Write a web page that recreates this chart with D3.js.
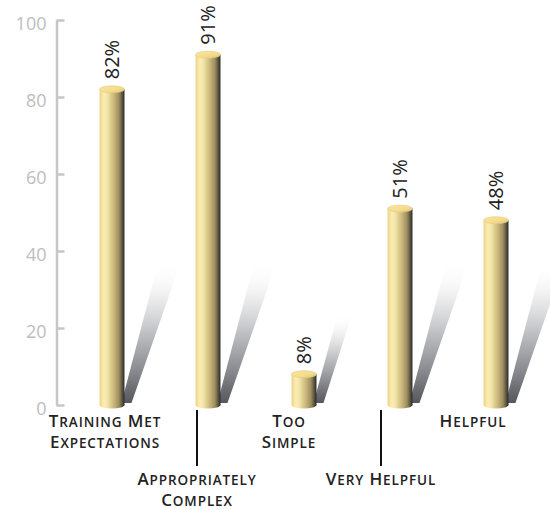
<!DOCTYPE html>
<html>
<head>
<meta charset="utf-8">
<script src="https://cdn.jsdelivr.net/npm/d3@7"></script>
<style>
  html, body { margin: 0; padding: 0; background: #fff; }
  svg { display: block; }
  .cat { font-family: "Open Sans", sans-serif; font-weight: 600; fill: #222; }
</style>
</head>
<body>
<svg id="chart" width="550" height="510"></svg>
<script>
// Survey results, percent of respondents
const categories = ["Training Met Expectations", "Appropriately Complex", "Too Simple", "Very Helpful", "Helpful"];
const labelLines = [["Training Met", "Expectations"], ["Appropriately", "Complex"], ["Too", "Simple"], ["Very Helpful"], ["Helpful"]];
const values = [82, 91, 8, 51, 48];
const yTicks = [0, 20, 40, 60, 80, 100];

const svg = d3.select("#chart");

const y = d3.scaleLinear().domain([0, 100]).range([405, 20]);
const x = d3.scaleBand().domain(categories).range([64, 544]).paddingInner(0.74).paddingOuter(0.37);
// category captions sit on a slightly tighter grid than the bars
const xl = d3.scalePoint().domain(categories).range([105, 473]);

const defs = svg.append("defs");

const bodyGrad = defs.append("linearGradient").attr("id", "cylBody").attr("x1", 0).attr("x2", 1).attr("y1", 0).attr("y2", 0);
[[0, "#ecd488"], [0.18, "#fbeeb6"], [0.32, "#f3e3a4"], [0.55, "#cdbb80"], [0.78, "#9e8e5d"], [0.9, "#5e5642"], [1, "#2a2a2a"]]
  .forEach(([o, c]) => bodyGrad.append("stop").attr("offset", o).attr("stop-color", c));

const capGrad = defs.append("linearGradient").attr("id", "cylTop").attr("x1", 0).attr("x2", 1).attr("y1", 0).attr("y2", 1);
[[0, "#f9e7a0"], [0.6, "#f3dc8a"], [1, "#d9c27a"]]
  .forEach(([o, c]) => capGrad.append("stop").attr("offset", o).attr("stop-color", c));

const shadeGrad = defs.append("linearGradient").attr("id", "shadow").attr("x1", 0).attr("x2", 0).attr("y1", 1).attr("y2", 0);
[[0, "#55575d", 1], [0.25, "#8c8e93", 1], [0.55, "#c9cacd", 1], [0.8, "#eeeeef", 0.7], [1, "#ffffff", 0]]
  .forEach(([o, c, a]) => shadeGrad.append("stop").attr("offset", o).attr("stop-color", c).attr("stop-opacity", a));

// y axis: ticks point inward, labels grey
const axis = d3.axisLeft(y).tickValues(yTicks).tickSizeInner(-8).tickSizeOuter(0).tickPadding(10);
const ax = svg.append("g").attr("transform", "translate(56.5,0)").call(axis);
ax.select(".domain").attr("stroke", "#c6c6c6").attr("stroke-width", 2.5);
ax.selectAll(".tick line").attr("stroke", "#c6c6c6").attr("stroke-width", 2.5);
ax.selectAll(".tick text")
  .attr("fill", "#bdbdbd")
  .attr("font-family", "'Open Sans', sans-serif")
  .attr("font-size", 18)
  .attr("dy", "0.55em");

const base = y(0);
const ry = 3.5;

// cast shadows behind each cylinder
svg.append("g").selectAll("path").data(values).join("path")
  .attr("d", (v, i) => {
    const h = base - y(v);
    const L = Math.min(140, h * 1.6 + 40);
    const xr = x(categories[i]) + x.bandwidth();
    const b = base - 2;
    return `M${xr - 3},${b} L${xr + 7},${b} L${xr + 0.4 * L},${b - L} L${xr + 0.24 * L},${b - L} Z`;
  })
  .attr("fill", "url(#shadow)");

// cylinders
const bars = svg.append("g").selectAll("g").data(values).join("g");
bars.append("ellipse")
  .attr("cx", (v, i) => x(categories[i]) + x.bandwidth() / 2)
  .attr("cy", base)
  .attr("rx", x.bandwidth() / 2).attr("ry", ry)
  .attr("fill", "url(#cylBody)");
bars.append("rect")
  .attr("x", (v, i) => x(categories[i]))
  .attr("y", v => y(v))
  .attr("width", x.bandwidth())
  .attr("height", v => base - y(v))
  .attr("fill", "url(#cylBody)");
bars.append("ellipse")
  .attr("cx", (v, i) => x(categories[i]) + x.bandwidth() / 2)
  .attr("cy", v => y(v))
  .attr("rx", x.bandwidth() / 2).attr("ry", ry)
  .attr("fill", "url(#cylTop)")
  .attr("stroke", "#e2cb80").attr("stroke-width", 0.6);

// value labels, rotated
bars.append("text")
  .attr("transform", (v, i) => `translate(${x(categories[i]) + x.bandwidth() / 2},${y(v) - 10}) rotate(-90)`)
  .attr("dy", "0.36em")
  .attr("font-family", "'Open Sans', sans-serif")
  .attr("font-size", 20)
  .attr("fill", "#222")
  .text(v => v + "%");

// category captions: alternate rows, lower row gets a leader line
const caps = svg.append("g").selectAll("g").data(categories).join("g");
caps.filter((d, i) => i % 2 === 1).append("line")
  .attr("x1", d => xl(d)).attr("x2", d => xl(d))
  .attr("y1", 410).attr("y2", 466)
  .attr("stroke", "#111").attr("stroke-width", 2);

// small caps built by hand: initial letter of each word full size, rest smaller
function smallCaps(line) {
  const parts = [];
  line.split(" ").forEach((w, k) => {
    parts.push({ t: (k > 0 ? " " : "") + w[0].toUpperCase(), big: true });
    if (w.length > 1) parts.push({ t: w.slice(1).toUpperCase(), big: false });
  });
  return parts;
}

caps.each(function (d, i) {
  const g = d3.select(this);
  const y0 = i % 2 === 0 ? 427 : 485;
  labelLines[i].forEach((line, j) => {
    const t = g.append("text")
      .attr("class", "cat")
      .attr("text-anchor", "middle")
      .attr("letter-spacing", 0.9)
      .attr("x", xl(d))
      .attr("y", y0 + j * 21);
    t.selectAll("tspan").data(smallCaps(line)).join("tspan")
      .attr("font-size", p => p.big ? 17 : 13.5)
      .text(p => p.t);
  });
});
</script>
</body>
</html>
